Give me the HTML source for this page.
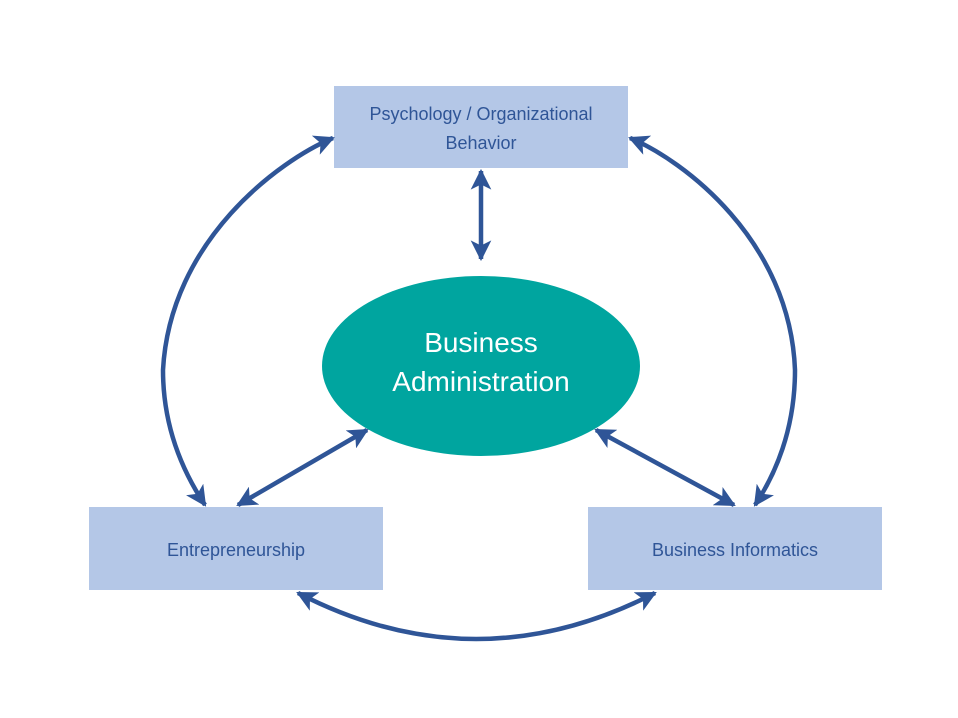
<!DOCTYPE html>
<html><head><meta charset="utf-8"><style>
html,body{margin:0;padding:0;background:#fff;}
svg{display:block;}
</style></head><body>
<svg width="958" height="718" viewBox="0 0 958 718" xmlns="http://www.w3.org/2000/svg">
<defs>
<marker id="a" viewBox="0 0 10 10" refX="9" refY="5" markerWidth="4.6" markerHeight="4.6" orient="auto-start-reverse" markerUnits="strokeWidth">
<path d="M0,0 L10,5 L0,10 L2.5,5 z" fill="#2f5597"/>
</marker>
</defs>
<rect width="958" height="718" fill="#fff"/>
<rect x="334" y="86" width="294" height="82" fill="#b4c7e7"/>
<rect x="89" y="507" width="294" height="83" fill="#b4c7e7"/>
<rect x="588" y="507" width="294" height="83" fill="#b4c7e7"/>
<ellipse cx="481" cy="366" rx="159" ry="90" fill="#00a59f"/>
<g stroke="#2f5597" stroke-width="4.5" fill="none" marker-start="url(#a)" marker-end="url(#a)">
<line x1="481" y1="171" x2="481" y2="259"/>
<line x1="238" y1="505" x2="367" y2="430"/>
<line x1="596" y1="430" x2="734" y2="505"/>
<path d="M333,138 C280,160 170,240 163,370 C163,430 185,475 205,505"/>
<path d="M630,138 C683,160 790,240 795,370 C795,430 775,475 755,505"/>
<path d="M298,593 Q476,685 655,593"/>
</g>
<g font-family="Liberation Sans, sans-serif" fill="#2f5597" font-size="18" text-anchor="middle">
<text x="481" y="120">Psychology / Organizational</text>
<text x="481" y="149">Behavior</text>
<text x="236" y="556">Entrepreneurship</text>
<text x="735" y="556">Business Informatics</text>
</g>
<g font-family="Liberation Sans, sans-serif" fill="#fff" font-size="28" text-anchor="middle">
<text x="481" y="352">Business</text>
<text x="481" y="391">Administration</text>
</g>
</svg>
</body></html>
